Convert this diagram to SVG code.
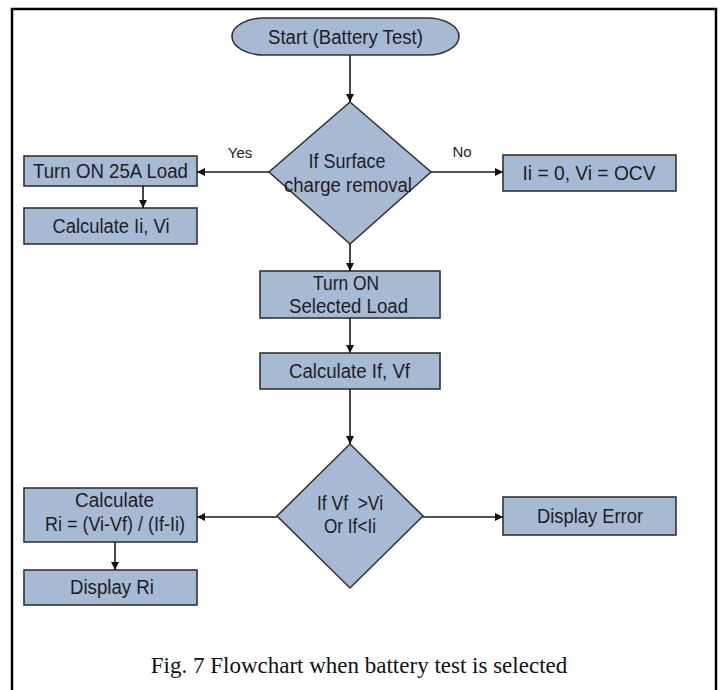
<svg xmlns="http://www.w3.org/2000/svg" width="720" height="690" viewBox="0 0 720 690">
<style>
.shape{fill:#a8bad3;stroke:#333;stroke-width:1.6}
.t{font-family:"Liberation Sans",Arial,sans-serif;font-size:20px;fill:#1c1c28;text-anchor:middle}
.lbl{font-family:"Liberation Sans",Arial,sans-serif;font-size:15px;fill:#1c1c28;text-anchor:middle}
.cap{font-family:"Liberation Serif","Times New Roman",serif;font-size:23px;fill:#111;text-anchor:middle}
.c{fill:none;stroke:#1a1a1a;stroke-width:1.6;marker-end:url(#ah)}
</style>
<defs>
<marker id="ah" viewBox="0 0 10 10" refX="10" refY="5" markerWidth="8" markerHeight="8" markerUnits="userSpaceOnUse" orient="auto">
<path d="M0,0 L10,5 L0,10 z" fill="#111"/>
</marker>
</defs>
<rect x="0" y="0" width="720" height="690" fill="#fff"/>
<rect id="frame" x="12" y="9" width="704" height="700" fill="none" stroke="#000" stroke-width="2.5"/>

<g id="start">
<rect class="shape" x="232" y="18" width="227" height="37" rx="32" ry="18.5"/>
<text class="t" x="345.5" y="44" textLength="155" lengthAdjust="spacingAndGlyphs">Start (Battery Test)</text>
</g>
<g id="dec1">
<polygon class="shape" points="350,102 431,172 350,244 269,172"/>
<text class="t" x="347" y="168" textLength="77" lengthAdjust="spacingAndGlyphs">If Surface</text>
<text class="t" x="348" y="192" textLength="128" lengthAdjust="spacingAndGlyphs">charge removal</text>
</g>
<g id="load25">
<rect class="shape" x="24" y="156" width="173" height="30"/>
<text class="t" x="110.5" y="178" textLength="155" lengthAdjust="spacingAndGlyphs">Turn ON 25A Load</text>
</g>
<g id="calcIiVi">
<rect class="shape" x="24" y="208" width="173" height="36"/>
<text class="t" x="111" y="233" textLength="117" lengthAdjust="spacingAndGlyphs">Calculate Ii, Vi</text>
</g>
<g id="ocv">
<rect class="shape" x="503" y="155" width="173" height="36"/>
<text class="t" x="589" y="180" textLength="133" lengthAdjust="spacingAndGlyphs">Ii = 0, Vi = OCV</text>
</g>
<g id="selLoad">
<rect class="shape" x="260" y="271" width="180" height="47"/>
<text class="t" x="346" y="290" textLength="66" lengthAdjust="spacingAndGlyphs">Turn ON</text>
<text class="t" x="348.5" y="313" textLength="119" lengthAdjust="spacingAndGlyphs">Selected Load</text>
</g>
<g id="calcIfVf">
<rect class="shape" x="260" y="353" width="180" height="36"/>
<text class="t" x="349.5" y="378" textLength="121" lengthAdjust="spacingAndGlyphs">Calculate If, Vf</text>
</g>
<g id="dec2">
<polygon class="shape" points="350,444 423,516 350,588 277,516"/>
<text class="t" x="350" y="510" textLength="66" lengthAdjust="spacingAndGlyphs" xml:space="preserve">If Vf  &gt;Vi</text>
<text class="t" x="350" y="533" textLength="52" lengthAdjust="spacingAndGlyphs">Or If&lt;Ii</text>
</g>
<g id="calcRi">
<rect class="shape" x="24" y="488" width="173" height="54"/>
<text class="t" x="114.5" y="507" textLength="79" lengthAdjust="spacingAndGlyphs">Calculate</text>
<text class="t" x="115" y="531" textLength="140" lengthAdjust="spacingAndGlyphs">Ri = (Vi-Vf) / (If-Ii)</text>
</g>
<g id="dispRi">
<rect class="shape" x="24" y="570" width="173" height="35"/>
<text class="t" x="112" y="594" textLength="84" lengthAdjust="spacingAndGlyphs">Display Ri</text>
</g>
<g id="dispErr">
<rect class="shape" x="503" y="497" width="173" height="38"/>
<text class="t" x="590" y="523" textLength="106" lengthAdjust="spacingAndGlyphs">Display Error</text>
</g>

<g id="connectors">
<line class="c" x1="350" y1="55" x2="350" y2="102"/>
<line class="c" x1="269" y1="172" x2="197" y2="172"/>
<text class="lbl" x="240" y="158">Yes</text>
<line class="c" x1="143" y1="186" x2="143" y2="208"/>
<line class="c" x1="431" y1="172" x2="503" y2="172"/>
<text class="lbl" x="462" y="157">No</text>
<line class="c" x1="350" y1="244" x2="350" y2="271"/>
<line class="c" x1="350" y1="318" x2="350" y2="353"/>
<line class="c" x1="350" y1="389" x2="350" y2="444"/>
<line class="c" x1="277" y1="517" x2="197" y2="517"/>
<line class="c" x1="115" y1="542" x2="115" y2="570"/>
<line class="c" x1="423" y1="517" x2="503" y2="517"/>
</g>

<text class="cap" x="359" y="673">Fig. 7 Flowchart when battery test is selected</text>
</svg>
